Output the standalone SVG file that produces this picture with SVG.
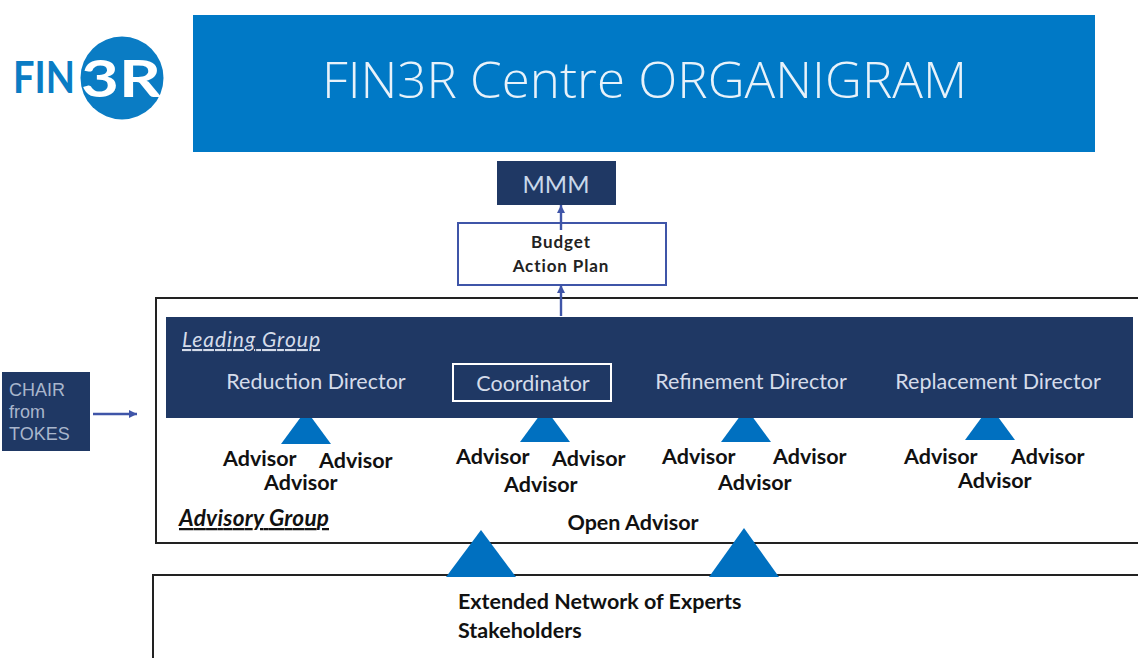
<svg xmlns="http://www.w3.org/2000/svg" width="1138" height="658" viewBox="0 0 1138 658">
<defs>
<marker id="arr" markerUnits="userSpaceOnUse" markerWidth="10" markerHeight="10" refX="8" refY="5" orient="auto"><path d="M0,1 L8,5 L0,9 Z" fill="#3f55a8"/></marker>
</defs>
<style>
text{font-family:"Lato","Liberation Sans",sans-serif}
.adv{font-size:21.5px;font-weight:700;fill:#111}
.dir{font-size:21.5px;fill:#d5dcea}
.tri{fill:#0070c0}
.navy{fill:#1f3864}
.conn{stroke:#3f55a8;stroke-width:2.4;fill:none;marker-end:url(#arr)}
.bold{font-size:21.5px;font-weight:700;fill:#111}
</style>
<rect width="1138" height="658" fill="#fff"/>
<g id="logo">
<circle cx="122" cy="78" r="41.5" fill="#0a7cc4"/>
<text x="13" y="93" font-size="43" font-weight="700" fill="#0a7cc4" textLength="62" lengthAdjust="spacingAndGlyphs">FIN</text>
<text x="81" y="97" font-size="52" font-weight="700" fill="#fff" textLength="80" lengthAdjust="spacingAndGlyphs">3R</text>
</g>
<g id="title">
<rect x="193" y="15" width="902" height="137" fill="#0079c6"/>
<text x="322" y="98" font-size="50" fill="#e8f2fa" style="font-family:'Open Sans',sans-serif;font-weight:300" textLength="645" lengthAdjust="spacingAndGlyphs">FIN3R Centre ORGANIGRAM</text>
</g>
<g id="mmm">
<rect x="497" y="161" width="119" height="44" class="navy"/>
<text x="556" y="193" font-size="24" text-anchor="middle" fill="#c9d8ea">MMM</text>
</g>
<g id="budget">
<rect x="458" y="223" width="208" height="62" fill="#fff" stroke="#3f55a8" stroke-width="2"/>
<text x="561" y="248" font-size="17" font-weight="700" text-anchor="middle" fill="#222" letter-spacing="0.9">Budget</text>
<text x="561" y="272" font-size="17" font-weight="700" text-anchor="middle" fill="#222" letter-spacing="0.9">Action Plan</text>
</g>
<g id="advisory-group">
<rect x="156" y="298" width="990" height="245" fill="#fff" stroke="#222" stroke-width="2"/>
<text x="179" y="526" font-size="22.5" font-weight="700" font-style="italic" fill="#111" text-decoration="underline" textLength="150">Advisory Group</text>
<text x="633" y="530" text-anchor="middle" class="bold">Open Advisor</text>
</g>
<g id="advisors-1">
<path class="tri" d="M306,410 L331,444 L281,444 Z"/>
<text x="223" y="466" class="adv">Advisor</text><text x="319" y="468" class="adv">Advisor</text><text x="264" y="490" class="adv">Advisor</text>
</g>
<g id="advisors-2">
<path class="tri" d="M545,408 L570,442 L520,442 Z"/>
<text x="456" y="464" class="adv">Advisor</text><text x="552" y="466" class="adv">Advisor</text><text x="504" y="492" class="adv">Advisor</text>
</g>
<g id="advisors-3">
<path class="tri" d="M746,408 L771,442 L721,442 Z"/>
<text x="662" y="464" class="adv">Advisor</text><text x="773" y="464" class="adv">Advisor</text><text x="718" y="490" class="adv">Advisor</text>
</g>
<g id="advisors-4">
<path class="tri" d="M990,406 L1015,440 L965,440 Z"/>
<text x="904" y="464" class="adv">Advisor</text><text x="1011" y="464" class="adv">Advisor</text><text x="958" y="488" class="adv">Advisor</text>
</g>
<g id="leading-group">
<rect x="166" y="317" width="967" height="101" class="navy"/>
<text x="182" y="347" font-size="21" font-style="italic" fill="#d5dcea" text-decoration="underline" textLength="138">Leading Group</text>
<text x="316" y="389" text-anchor="middle" class="dir">Reduction Director</text>
<rect x="453" y="364" width="158" height="37" fill="none" stroke="#fff" stroke-width="2"/>
<text x="533" y="391" text-anchor="middle" class="dir">Coordinator</text>
<text x="751" y="389" text-anchor="middle" class="dir">Refinement Director</text>
<text x="998" y="389" text-anchor="middle" class="dir">Replacement Director</text>
</g>
<g id="chair">
<rect x="2" y="372" width="88" height="79" class="navy"/>
<text font-size="18" fill="#a9b6cc" style="font-family:'Liberation Sans',sans-serif"><tspan x="9" y="396">CHAIR</tspan><tspan x="9" y="418">from</tspan><tspan x="9" y="440">TOKES</tspan></text>
</g>
<g id="extended-network">
<rect x="153" y="575" width="993" height="95" fill="#fff" stroke="#222" stroke-width="2"/>
<text x="458" y="609" class="bold">Extended Network of Experts</text>
<text x="458" y="638" class="bold">Stakeholders</text>
</g>
<g id="up-triangles">
<path class="tri" d="M481,530 L516,577 L446,577 Z"/>
<path class="tri" d="M744,528 L779,577 L709,577 Z"/>
</g>
<g id="connectors">
<path class="conn" d="M561,230 V205"/>
<path class="conn" d="M561,316 V285"/>
<path class="conn" d="M93,414 H137"/>
</g>
</svg>
